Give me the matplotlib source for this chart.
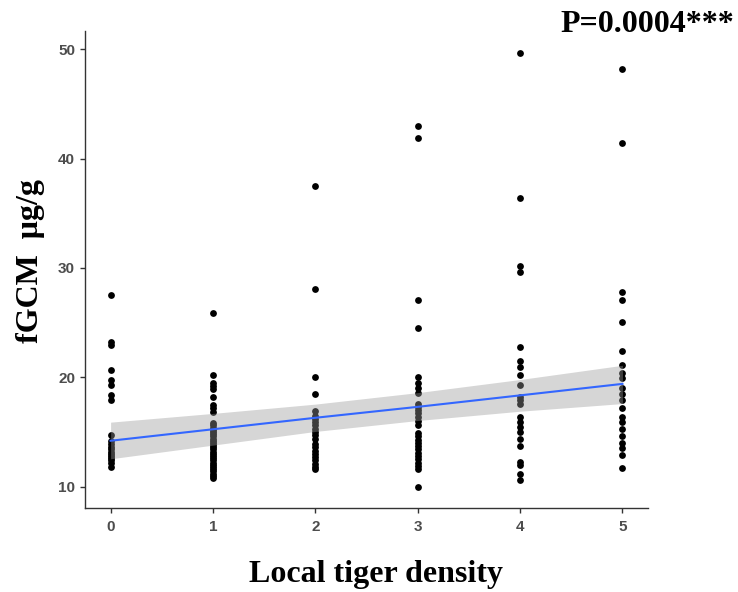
import numpy as np
import matplotlib
matplotlib.use("Agg")
import matplotlib.pyplot as plt

# fGCM values (ug/g) read per local tiger density level
dens_0 = [27.5, 23.2, 23.0, 20.7, 19.8, 19.3, 18.4, 17.9, 14.7, 14.2, 13.9, 13.6,
          13.4, 13.2, 13.0, 12.8, 12.6, 12.4, 12.2, 11.8]
dens_1 = [25.9, 20.2, 19.5, 19.2, 18.9, 18.2, 17.5, 17.2, 16.8, 15.8, 15.6, 15.4,
          15.2, 15.0, 14.8, 14.6, 14.4, 14.2, 14.0, 13.8, 13.6, 13.4, 13.2, 13.0,
          12.8, 12.6, 12.4, 12.2, 12.0, 11.8, 11.6, 11.4, 11.2, 11.0, 10.8]
dens_2 = [37.5, 28.1, 20.0, 18.5, 16.9, 16.5, 16.2, 15.9, 15.6, 15.3, 15.0, 14.7,
          14.4, 13.9, 13.6, 13.3, 13.0, 12.7, 12.4, 12.1, 11.8, 11.6]
dens_3 = [43.0, 41.9, 27.1, 24.5, 20.0, 19.5, 19.0, 18.6, 17.6, 17.3, 17.0, 16.7,
          16.4, 16.0, 15.6, 14.9, 14.6, 14.3, 14.0, 13.7, 13.4, 13.1, 12.8, 12.5,
          12.2, 11.9, 11.6, 10.0]
dens_4 = [49.7, 36.4, 30.2, 29.6, 22.8, 21.5, 20.9, 20.2, 19.3, 18.2, 17.9, 17.6,
          16.4, 15.9, 15.5, 15.0, 14.4, 13.7, 12.3, 12.0, 11.2, 10.6]
dens_5 = [48.2, 41.4, 27.8, 27.1, 25.1, 22.4, 21.1, 20.4, 19.9, 19.0, 18.5, 17.9,
          17.2, 16.4, 15.9, 15.3, 14.6, 14.0, 13.5, 12.9, 11.7]

groups = [dens_0, dens_1, dens_2, dens_3, dens_4, dens_5]
x_ticks = [0, 1, 2, 3, 4, 5]
y_ticks = [10, 20, 30, 40, 50]
p_label = "P=0.0004***"

# lm smooth at each density level
fit_y = [14.2, 15.25, 16.3, 17.3, 18.35, 19.4]
band_lo = [12.55, 13.8, 15.05, 16.05, 16.9, 17.6]
band_hi = [15.9, 16.7, 17.55, 18.6, 19.8, 21.1]

x = np.concatenate([np.full(len(g), i, dtype=float) for i, g in enumerate(groups)])
y = np.concatenate([np.array(g, dtype=float) for g in groups])

fig = plt.figure(figsize=(7.38, 5.92), dpi=100)
ax = fig.add_axes([0.1152, 0.1419, 0.7629, 0.8057])

ax.scatter(x, y, s=24, color="black", linewidths=0, zorder=2)
ax.fill_between(x_ticks, band_lo, band_hi, color="#999999", alpha=0.4,
                linewidth=0, zorder=3)
ax.plot(x_ticks, fit_y, color="#3366FF", linewidth=1.5, zorder=4)

ax.set_xlim(-0.25, 5.25)
ax.set_ylim(8.05, 51.67)
ax.set_xticks(x_ticks)
ax.set_yticks(y_ticks)
ax.set_xticklabels([str(v) for v in x_ticks])
ax.set_yticklabels([str(v) for v in y_ticks])

for side in ["top", "right"]:
    ax.spines[side].set_visible(False)
for side in ["left", "bottom"]:
    ax.spines[side].set_color("#333333")
    ax.spines[side].set_linewidth(1.0)

ax.tick_params(axis="both", length=3.6, width=1, color="#333333",
               labelsize=11, labelcolor="#4D4D4D", pad=3.6)
ax.tick_params(axis="x", pad=5)
for lab in ax.get_xticklabels() + ax.get_yticklabels():
    lab.set_fontweight("bold")
    lab.set_fontfamily("Liberation Sans")

serif = {"family": "Liberation Serif", "weight": "bold"}
ax.set_xlabel("Local tiger density", fontsize=23, **serif)
ax.set_ylabel("fGCM  μg/g", fontsize=23, **serif)
ax.xaxis.set_label_coords(0.517, -0.109)
ax.yaxis.set_label_coords(-0.071, 0.518)
fig.text(0.995, 0.958, p_label, ha="right", va="center", fontsize=23, **serif)

fig.savefig("out.png", dpi=100)
